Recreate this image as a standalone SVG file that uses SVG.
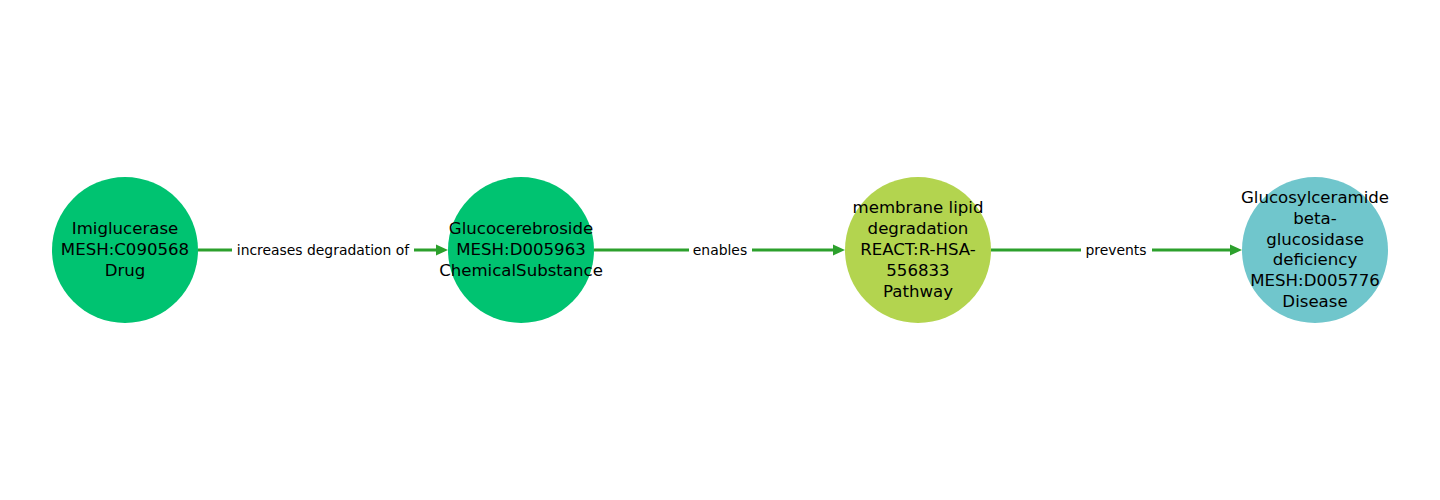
<svg xmlns="http://www.w3.org/2000/svg" width="1440" height="500" viewBox="0 0 1440 500">
<style>
.node text{font-family:"DejaVu Sans",sans-serif;font-size:16.6px;fill:#000;text-anchor:middle}
.edge line{stroke:#2ca02c;stroke-width:3}
.edge path{fill:#2ca02c}
.elabel{font-family:"DejaVu Sans",sans-serif;font-size:13.9px;fill:#000;text-anchor:middle}
.lbg{fill:#fff}
</style>
<rect width="1440" height="500" fill="#fff"/>
<g id="connectors">
  <g class="edge">
    <line x1="198" y1="250" x2="438" y2="250"/>
    <path d="M448,250 L436,244.5 L436,255.5 Z"/>
    <rect class="lbg" x="232" y="240" width="182" height="20"/>
    <text class="elabel" x="323" y="255">increases degradation of</text>
  </g>
  <g class="edge">
    <line x1="594" y1="250" x2="835" y2="250"/>
    <path d="M845,250 L833,244.5 L833,255.5 Z"/>
    <rect class="lbg" x="689" y="240" width="63" height="20"/>
    <text class="elabel" x="720" y="255">enables</text>
  </g>
  <g class="edge">
    <line x1="991" y1="250" x2="1232" y2="250"/>
    <path d="M1242,250 L1230,244.5 L1230,255.5 Z"/>
    <rect class="lbg" x="1081" y="240" width="71" height="20"/>
    <text class="elabel" x="1116" y="255">prevents</text>
  </g>
</g>
<g id="n1" class="node">
  <circle cx="125" cy="250" r="73" fill="#00c371"/>
  <text x="125" y="234">Imiglucerase</text>
  <text x="125" y="255">MESH:C090568</text>
  <text x="125" y="276">Drug</text>
</g>
<g id="n2" class="node">
  <circle cx="521" cy="250" r="73" fill="#00c371"/>
  <text x="521" y="234">Glucocerebroside</text>
  <text x="521" y="255">MESH:D005963</text>
  <text x="521" y="276">ChemicalSubstance</text>
</g>
<g id="n3" class="node">
  <circle cx="918" cy="250" r="73" fill="#b3d44f"/>
  <text x="918" y="213">membrane lipid</text>
  <text x="918" y="234">degradation</text>
  <text x="918" y="255">REACT:R-HSA-</text>
  <text x="918" y="276">556833</text>
  <text x="918" y="297">Pathway</text>
</g>
<g id="n4" class="node">
  <circle cx="1315" cy="250" r="73" fill="#70c6cc"/>
  <text x="1315" y="203">Glucosylceramide</text>
  <text x="1315" y="224">beta-</text>
  <text x="1315" y="244.5">glucosidase</text>
  <text x="1315" y="265">deficiency</text>
  <text x="1315" y="286">MESH:D005776</text>
  <text x="1315" y="307">Disease</text>
</g>
</svg>
